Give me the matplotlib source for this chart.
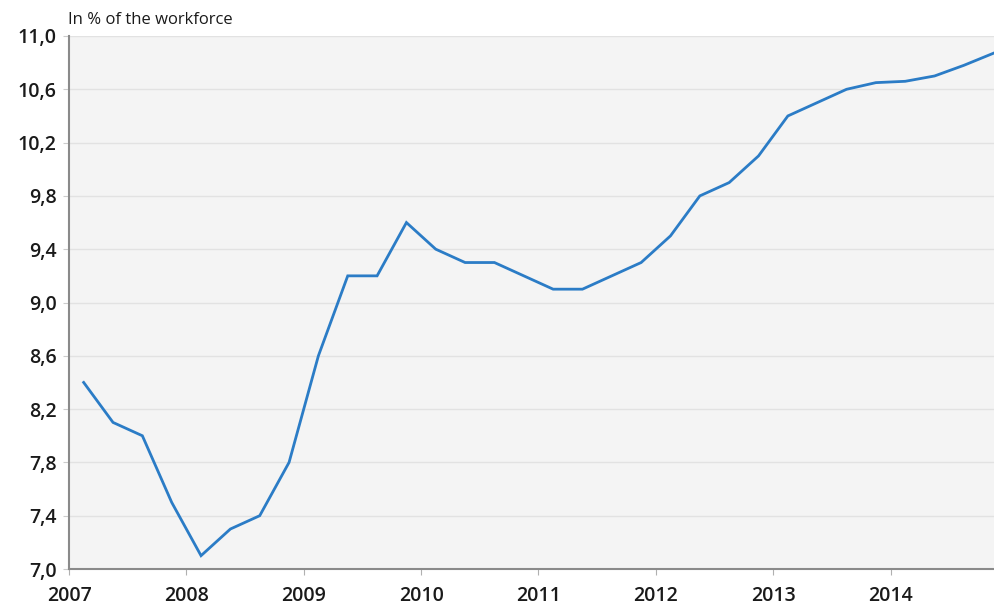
import matplotlib
import numpy as np

matplotlib.use("Agg")
import matplotlib.pyplot as plt
from matplotlib.ticker import FuncFormatter

# quarterly unemployment rate, 2007 Q1 .. 2014 Q4
years = [2007, 2008, 2009, 2010, 2011, 2012, 2013, 2014]
rate = [
    8.4, 8.1, 8.0, 7.5,
    7.1, 7.3, 7.4, 7.8,
    8.6, 9.2, 9.2, 9.6,
    9.4, 9.3, 9.3, 9.2,
    9.1, 9.1, 9.2, 9.3,
    9.5, 9.8, 9.9, 10.1,
    10.4, 10.5, 10.6, 10.65,
    10.66, 10.7, 10.78, 10.87,
]
y_ticks = [7.0, 7.4, 7.8, 8.2, 8.6, 9.0, 9.4, 9.8, 10.2, 10.6, 11.0]

plt.rcParams["font.family"] = ["Open Sans", "DejaVu Sans"]

W, H = 994, 606
fig = plt.figure(figsize=(W / 100, H / 100), dpi=100)
ax = fig.add_axes([69 / W, (H - 569) / H, (995 - 69) / W, (569 - 36) / H])
ax.set_facecolor("#f4f4f4")

quarters = years[0] + (np.arange(len(rate)) + 0.5) / 4
ax.plot(quarters, rate, color="#2b7cc6", lw=2.0, solid_joinstyle="miter", zorder=3)

ax.set_xlim(2007, 2014.89)
ax.set_ylim(7.0, 11.0)
ax.set_xticks(years)
ax.set_yticks(y_ticks)
ax.yaxis.set_major_formatter(FuncFormatter(lambda v, _: f"{v:.1f}".replace(".", ",")))
ax.grid(axis="y", color="#e2e2e2", lw=1.0)
ax.set_axisbelow(True)

for side in ("top", "right"):
    ax.spines[side].set_visible(False)
for side in ("left", "bottom"):
    ax.spines[side].set_color("#8a8a8a")
    ax.spines[side].set_linewidth(1.5)

ax.tick_params(axis="x", length=4, color="#b0b0b0", labelsize=14, pad=8, labelcolor="#1a1a1a")
ax.tick_params(axis="y", length=4, color="#cccccc", labelsize=14, pad=5, labelcolor="#1a1a1a")
for lbl in ax.get_xticklabels() + ax.get_yticklabels():
    lbl.set_fontweight("semibold")

fig.text(68 / W, 1 - 20 / H, "In % of the workforce", fontsize=12, color="#1a1a1a",
         ha="left", va="center")

fig.savefig("out.png", dpi=100)
plt.close(fig)
